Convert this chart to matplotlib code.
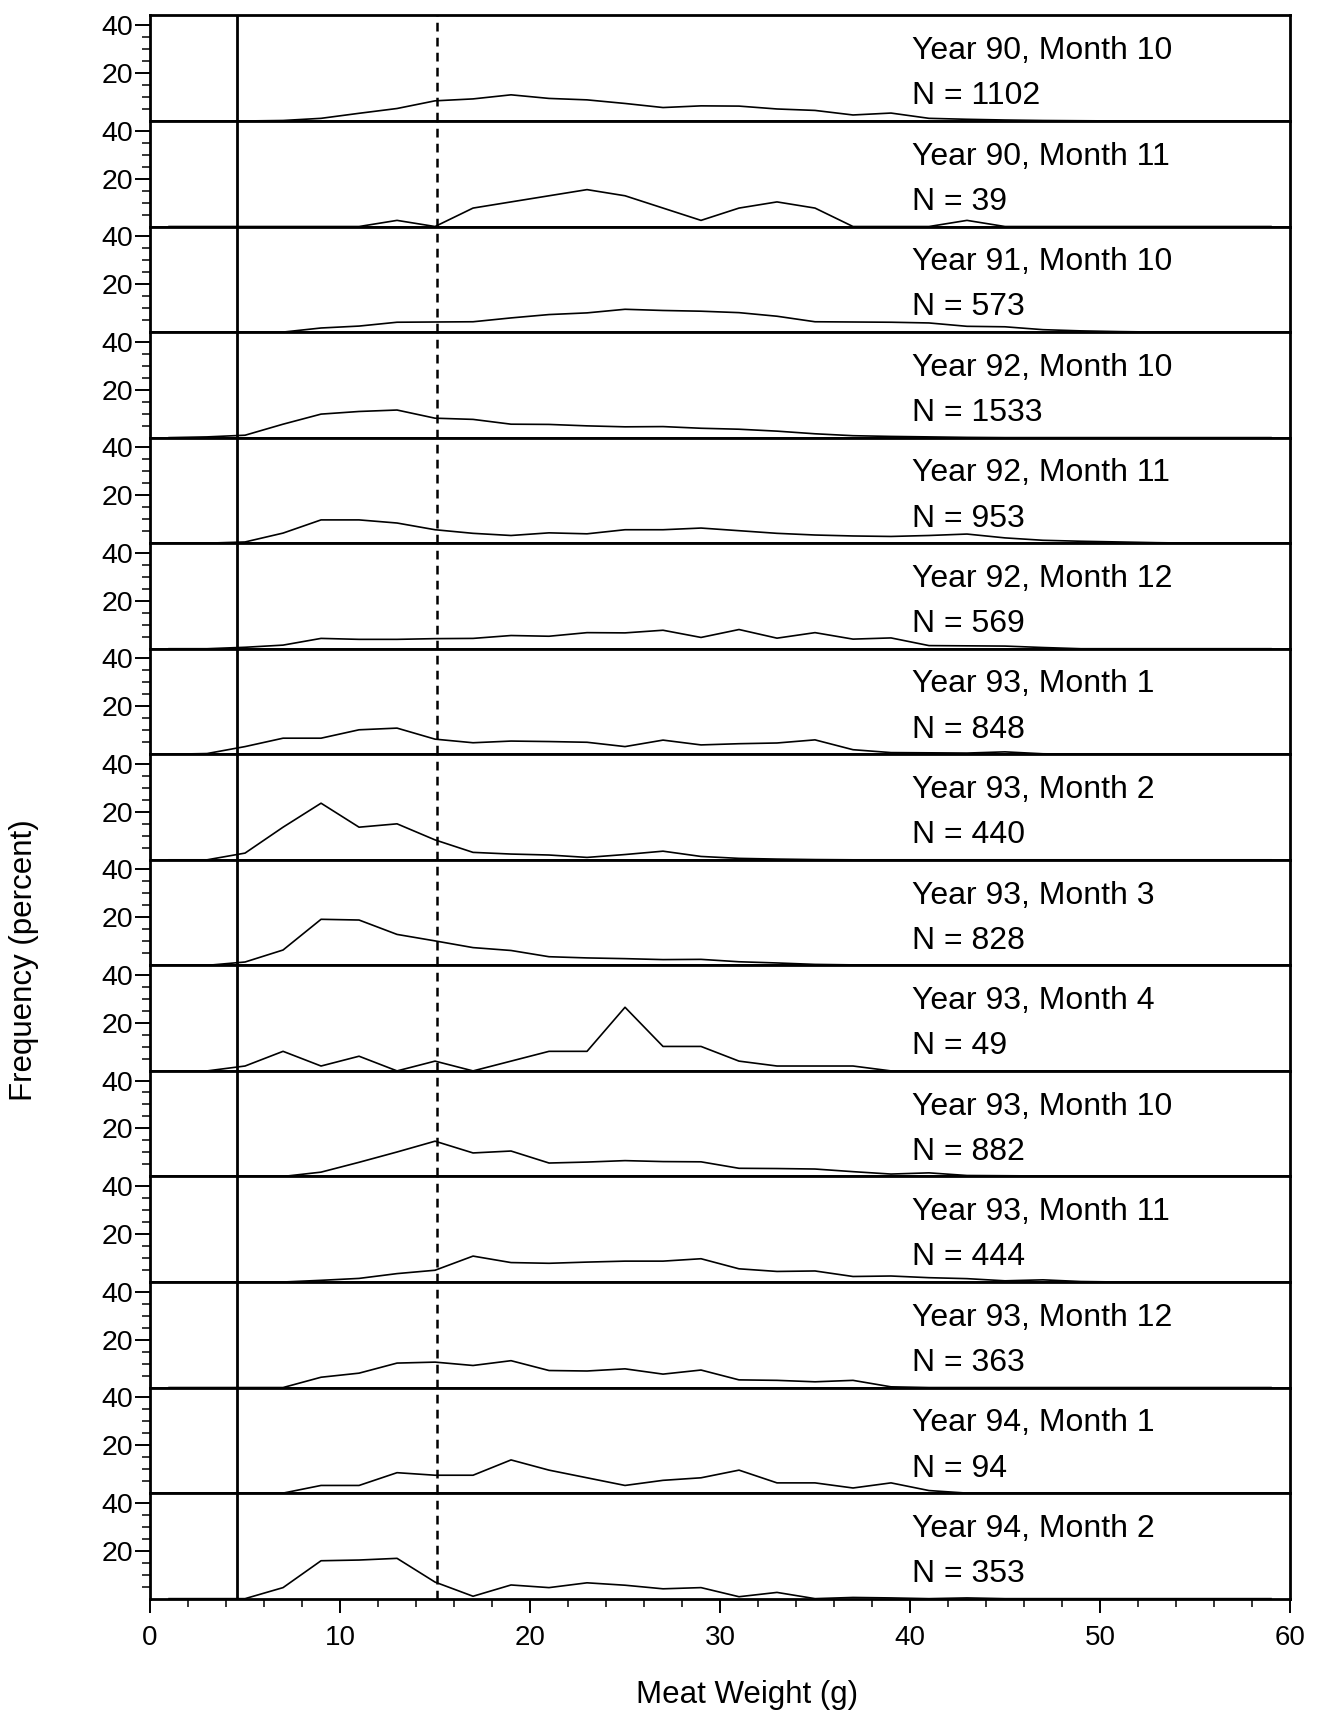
import matplotlib
matplotlib.use('Agg')
import matplotlib.pyplot as plt

plt.rcParams['font.family'] = ['Liberation Sans', 'DejaVu Sans']

# 2 g weight classes (mid points)
weight_bins = list(range(1, 60, 2))

panel_labels = ['Year 90, Month 10', 'Year 90, Month 11', 'Year 91, Month 10',
                'Year 92, Month 10', 'Year 92, Month 11', 'Year 92, Month 12',
                'Year 93, Month 1', 'Year 93, Month 2', 'Year 93, Month 3',
                'Year 93, Month 4', 'Year 93, Month 10', 'Year 93, Month 11',
                'Year 93, Month 12', 'Year 94, Month 1', 'Year 94, Month 2']
panel_n = [1102, 39, 573, 1533, 953, 569, 848, 440, 828, 49, 882, 444, 363, 94, 353]

# frequency (percent) per weight class
freq_90_10 = [0, 0, 0, 0.2, 1.1, 3.2, 5.2, 8.4, 9.2, 10.9, 9.4, 8.8, 7.3, 5.6, 6.3,
              6.2, 5.0, 4.4, 2.5, 3.3, 1.1, 0.7, 0.4, 0.2, 0.1, 0, 0, 0, 0, 0]
freq_90_11 = [0, 0, 0, 0, 0, 0, 2.56, 0, 7.69, 10.26, 12.82, 15.38, 12.82, 7.69, 2.56,
              7.69, 10.26, 7.69, 0, 0, 0, 2.56, 0, 0, 0, 0, 0, 0, 0, 0]
freq_91_10 = [0, 0, 0, 0, 1.7, 2.5, 4.1, 4.2, 4.3, 5.9, 7.3, 8.0, 9.5, 9.0, 8.7,
              8.1, 6.6, 4.3, 4.2, 4.1, 3.8, 2.4, 2.2, 1.0, 0.5, 0.2, 0, 0, 0, 0]
freq_92_10 = [0, 0.3, 1.0, 5.6, 9.8, 10.9, 11.5, 8.1, 7.6, 5.6, 5.5, 4.9, 4.5, 4.6, 3.9,
              3.5, 2.7, 1.6, 0.8, 0.5, 0.3, 0.1, 0, 0, 0, 0, 0, 0, 0, 0]
freq_92_11 = [0, 0, 0.5, 4.2, 9.7, 9.7, 8.4, 5.6, 4.1, 3.2, 4.3, 3.9, 5.6, 5.6, 6.3,
              5.2, 4.1, 3.4, 3.0, 2.8, 3.2, 3.8, 2.2, 1.2, 0.8, 0.5, 0.2, 0, 0, 0]
freq_92_12 = [0, 0, 0.6, 1.5, 4.3, 3.9, 3.9, 4.2, 4.3, 5.5, 5.2, 6.7, 6.6, 7.7, 4.7,
              8.0, 4.4, 6.7, 4.0, 4.5, 1.3, 1.2, 1.1, 0.5, 0, 0, 0, 0, 0, 0]
freq_93_01 = [0, 0.3, 3.2, 6.7, 6.7, 10.2, 10.9, 6.3, 4.8, 5.5, 5.3, 5.0, 3.2, 5.9, 3.9,
              4.4, 4.7, 6.0, 1.9, 0.7, 0.6, 0.5, 1.0, 0.2, 0, 0, 0, 0, 0, 0]
freq_93_02 = [0, 0, 2.8, 13.6, 23.6, 13.6, 15.0, 8.3, 3.1, 2.4, 2.0, 1.0, 2.2, 3.6, 1.4,
              0.6, 0.3, 0.1, 0, 0, 0, 0, 0, 0, 0, 0, 0, 0, 0, 0]
freq_93_03 = [0, 0, 1.4, 6.4, 19.2, 18.9, 12.9, 10.2, 7.4, 6.2, 3.6, 3.1, 2.8, 2.4, 2.5,
              1.5, 1.0, 0.4, 0.2, 0, 0, 0, 0, 0, 0, 0, 0, 0, 0, 0]
freq_93_04 = [0, 0, 2.04, 8.16, 2.04, 6.12, 0, 4.08, 0, 4.08, 8.16, 8.16, 26.53, 10.2, 10.2,
              4.08, 2.04, 2.04, 2.04, 0, 0, 0, 0, 0, 0, 0, 0, 0, 0, 0]
freq_93_10 = [0, 0, 0, 0, 1.8, 5.9, 10.2, 14.7, 9.8, 10.6, 5.6, 6.0, 6.6, 6.2, 6.1,
              3.4, 3.3, 3.1, 2.0, 1.0, 1.5, 0.4, 0.3, 0.2, 0, 0, 0, 0, 0, 0]
freq_93_11 = [0, 0, 0, 0, 0.7, 1.5, 3.5, 4.9, 10.8, 8.1, 7.8, 8.3, 8.7, 8.7, 9.7,
              5.5, 4.4, 4.6, 2.3, 2.5, 1.8, 1.4, 0.5, 0.9, 0.2, 0, 0, 0, 0, 0]
freq_93_12 = [0, 0, 0, 0, 4.3, 6.0, 10.2, 10.6, 9.2, 11.2, 7.1, 6.9, 7.8, 5.6, 7.3,
              3.2, 3.0, 2.4, 3.0, 0.3, 0, 0, 0, 0, 0, 0, 0, 0, 0, 0]
freq_94_01 = [0, 0, 0, 0, 3.19, 3.19, 8.51, 7.45, 7.45, 13.83, 9.57, 6.38, 3.19, 5.32, 6.38,
              9.57, 4.26, 4.26, 2.13, 4.26, 1.06, 0, 0, 0, 0, 0, 0, 0, 0, 0]
freq_94_02 = [0, 0, 0, 4.6, 15.8, 16.1, 16.8, 6.9, 1.0, 5.7, 4.6, 6.6, 5.6, 4.1, 4.6,
              0.8, 2.6, 0, 0.5, 0.3, 0, 0.3, 0, 0, 0, 0, 0, 0, 0, 0]

freqs = [freq_90_10, freq_90_11, freq_91_10, freq_92_10, freq_92_11, freq_92_12,
         freq_93_01, freq_93_02, freq_93_03, freq_93_04, freq_93_10, freq_93_11,
         freq_93_12, freq_94_01, freq_94_02]

min_size = 4.6      # solid reference line
cutoff = 15.1       # dashed reference line

fig, axes = plt.subplots(len(freqs), 1, figsize=(13.21, 17.14), dpi=100, sharex=True)
plt.subplots_adjust(left=0.1136, right=0.9765, top=0.991, bottom=0.0673, hspace=0)

for i, ax in enumerate(axes):
    ax.plot(weight_bins, freqs[i], color='black', lw=1.2)
    ax.axvline(min_size, color='black', lw=2.0)
    ax.axvline(cutoff, color='black', lw=1.8, linestyle=(0, (3.5, 2.5)))
    ax.set_xlim(0, 60)
    ax.set_ylim(0, 44)
    ax.set_yticks([20, 40])
    ax.set_yticks([5, 10, 15, 25, 30, 35], minor=True)
    ax.tick_params(axis='y', which='major', length=11, width=1.4, pad=1, labelsize=20.5)
    ax.tick_params(axis='y', which='minor', length=5.5, width=1.1)
    for s in ax.spines.values():
        s.set_linewidth(2.0)
    ax.text(0.668, 0.586, panel_labels[i], transform=ax.transAxes, fontsize=23,
            ha='left', va='baseline')
    ax.text(0.668, 0.157, 'N = %d' % panel_n[i], transform=ax.transAxes, fontsize=23,
            ha='left', va='baseline')
    if i < len(freqs) - 1:
        ax.tick_params(axis='x', which='both', bottom=False, labelbottom=False)

bottom_ax = axes[-1]
bottom_ax.set_xticks(range(0, 61, 10))
bottom_ax.set_xticks(range(0, 61, 2), minor=True)
bottom_ax.tick_params(axis='x', which='major', length=10, width=1.4, pad=9, labelsize=20)
bottom_ax.tick_params(axis='x', which='minor', length=5.5, width=1.1)

fig.text(0.5655, 0.0111, 'Meat Weight (g)', fontsize=22.5, ha='center', va='center')
fig.text(0.018, 0.44, 'Frequency (percent)', fontsize=22.5, rotation=90,
         ha='center', va='center')

plt.savefig('out.png', dpi=100)
